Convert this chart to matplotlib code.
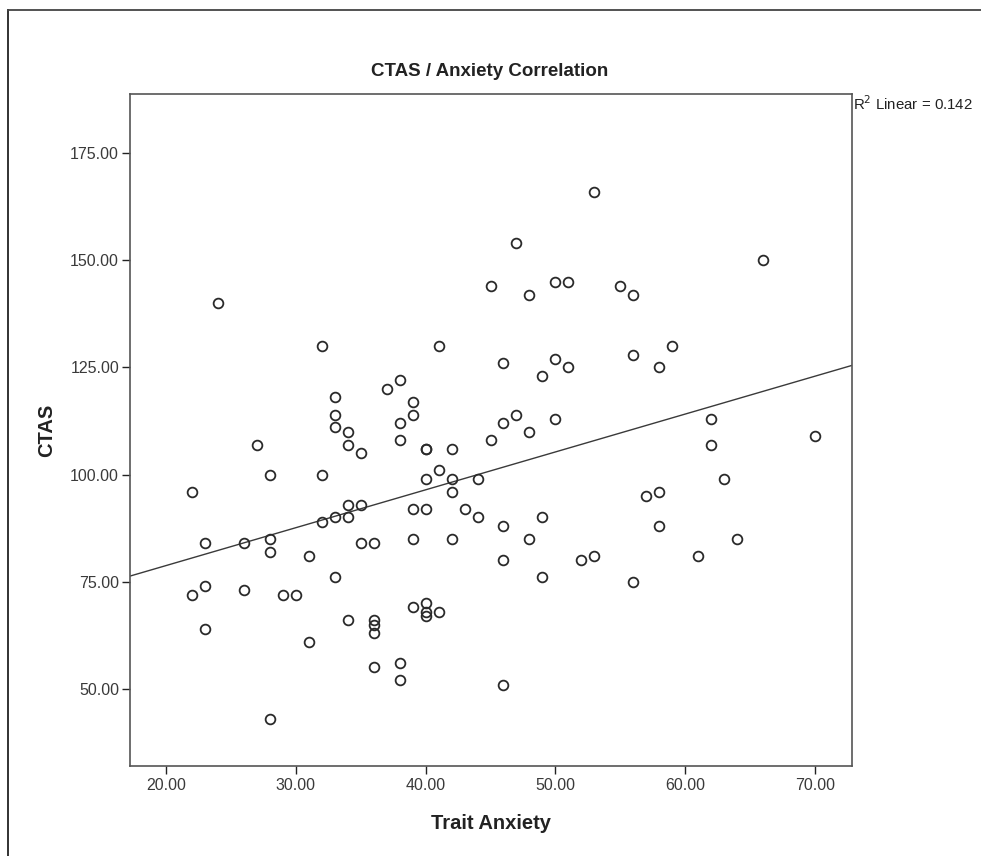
import matplotlib
matplotlib.use("Agg")
import matplotlib.pyplot as plt
import numpy as np
from matplotlib.lines import Line2D

trait_anxiety = [24, 32, 41, 53, 47, 66, 45, 48, 50, 51, 55, 56, 46, 50, 51, 49, 56, 59, 58,
                 45, 46, 47, 48, 50, 62, 62, 70, 42, 42, 44, 42, 43, 44, 42, 46, 49, 48, 46,
                 49, 52, 53, 56, 57, 58, 58, 63, 64, 61, 46, 33, 33, 33, 34, 34, 35, 37, 38,
                 39, 39, 38, 38, 40, 40, 27, 28, 32, 22, 41, 40, 34, 35, 33, 34, 32, 39, 40,
                 23, 26, 28, 28, 35, 36, 39, 31, 33, 22, 23, 26, 29, 30, 23, 34, 36, 36, 36,
                 39, 40, 40, 40, 41, 31, 36, 38, 38, 28]
ctas = [140, 130, 130, 166, 154, 150, 144, 142, 145, 145, 144, 142, 126, 127, 125, 123, 128, 130, 125,
        108, 112, 114, 110, 113, 113, 107, 109, 106, 99, 99, 96, 92, 90, 85, 88, 90, 85, 80,
        76, 80, 81, 75, 95, 96, 88, 99, 85, 81, 51, 118, 114, 111, 110, 107, 105, 120, 122,
        117, 114, 112, 108, 106, 106, 107, 100, 100, 96, 101, 99, 93, 93, 90, 90, 89, 92, 92,
        84, 84, 85, 82, 84, 84, 85, 81, 76, 72, 74, 73, 72, 72, 64, 66, 66, 65, 63,
        69, 70, 68, 67, 68, 61, 55, 56, 52, 43]

x_ticks = [20, 30, 40, 50, 60, 70]
y_ticks = [50, 75, 100, 125, 150, 175]
r2_label = "R$^2$ Linear = 0.142"

plt.rcParams['font.family'] = ['Liberation Sans', 'DejaVu Sans']

fig = plt.figure(figsize=(9.81, 8.56), dpi=100)
ax = fig.add_axes([129.5/981, 1 - 766/856, (851.5 - 129.5)/981, (766 - 94)/856])

x = np.array(trait_anxiety, dtype=float)
y = np.array(ctas, dtype=float)

ax.set_xlim(17.2, 72.8)
ax.set_ylim(32.0, 188.8)

ax.plot(x, y, linestyle='none', marker='o', markersize=7.0, markerfacecolor='none',
        markeredgecolor='#2a2a2a', markeredgewidth=1.3, zorder=3)

slope, intercept = np.polyfit(x, y, 1)
xl = np.array(ax.get_xlim())
ax.plot(xl, intercept + slope * xl, color='#3a3a3a', linewidth=1.0, zorder=2)

ax.set_xticks(x_ticks)
ax.set_xticklabels([f"{v:.2f}" for v in x_ticks])
ax.set_yticks(y_ticks)
ax.set_yticklabels([f"{v:.2f}" for v in y_ticks])
ax.tick_params(axis='both', direction='out', length=6, width=1, colors='#222222',
               labelsize=11.5, labelcolor='#3a3a3a')
ax.tick_params(axis='x', pad=3)
ax.tick_params(axis='y', pad=1.5)
for s in ax.spines.values():
    s.set_color('#555555')
    s.set_linewidth(1.2)

ax.set_xlabel("Trait Anxiety", fontsize=14.5, fontweight='bold', color='#222222', labelpad=15)
ax.set_ylabel("CTAS", fontsize=14.5, fontweight='bold', color='#222222', labelpad=10)
fig.text(490/981, 1 - 72/856, "CTAS / Anxiety Correlation", ha='center', va='center',
         fontsize=13.5, fontweight='bold', color='#222222')
fig.text(853/981, 1 - 104/856, r2_label, ha='left', va='center', fontsize=10.8, color='#222222')

# outer border (top and left visible)
fig.add_artist(Line2D([8/981, 8/981], [0, 1 - 10/856], transform=fig.transFigure,
                      color='#222222', linewidth=1.3))
fig.add_artist(Line2D([8/981, 1], [1 - 10/856, 1 - 10/856], transform=fig.transFigure,
                      color='#444444', linewidth=1.3))

fig.savefig("out.png", dpi=100, facecolor='white')
